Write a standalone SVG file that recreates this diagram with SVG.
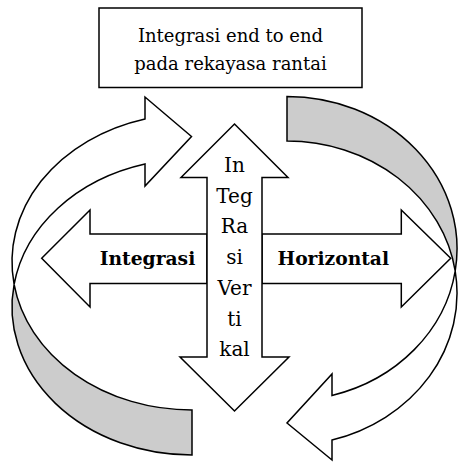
<svg xmlns="http://www.w3.org/2000/svg" width="458" height="462" viewBox="0 0 458 462">
  <style>
    .shape { fill: #ffffff; stroke: #000000; stroke-width: 1.5; stroke-linejoin: miter; }
    .band { fill: #cccccc; stroke: #000000; stroke-width: 1.5; stroke-linejoin: miter; }
    .txt { font-family: "DejaVu Serif", "Liberation Serif", serif; fill: #000000; text-anchor: middle; }
    .box-txt { font-size: 18px; }
    .bold-txt { font-size: 18.7px; font-weight: bold; }
    .vert-txt { font-size: 20px; }
  </style>
  <rect width="458" height="462" fill="#ffffff"/>

  <g id="connectors">
    <g id="curved-arrow-left">
      <path class="band" d="M 14.1,284.4 A 180 148.1 0 0 0 192,455 L 192,410 A 180 148.1 0 0 1 14.1,284.4 Z"/>
      <path class="shape" d="M 145,118.9 A 180 148.1 0 0 0 14.1,284.4 A 180 148.1 0 0 1 145,164 L 145,186 L 191.5,136.5 L 145,97 Z"/>
    </g>
    <g id="curved-arrow-right">
      <path class="band" d="M 287,96.5 A 170 152.2 0 0 1 455.2,271 A 170 152.2 0 0 0 287,141 Z"/>
      <path class="shape" d="M 455.2,271 A 170 152.2 0 0 1 332,440 L 332,460 L 287,423 L 332,374 L 332,395.5 A 170 152.2 0 0 0 455.2,271 Z"/>
    </g>
  </g>

  <g id="box-end-to-end">
    <rect class="shape" x="99" y="8" width="263" height="79.5"/>
    <text class="txt box-txt" x="230.5" y="42">Integrasi end to end</text>
    <text class="txt box-txt" x="230.5" y="70">pada rekayasa rantai</text>
  </g>

  <g id="arrow-integrasi">
    <path class="shape" d="M 41.7,258.3 L 90,210 L 90,234 L 207,234 L 207,283.5 L 90,283.5 L 90,307 Z"/>
    <text class="txt bold-txt" x="147.5" y="265">Integrasi</text>
  </g>

  <g id="arrow-horizontal">
    <path class="shape" d="M 450.7,258.3 L 401.3,210 L 401.3,234 L 262,234 L 262,283.5 L 401.3,283.5 L 401.3,307 Z"/>
    <text class="txt bold-txt" x="333.3" y="265">Horizontal</text>
  </g>

  <g id="arrow-vertikal">
    <path class="shape" d="M 234.5,124 L 288,177.5 L 262,177.5 L 262,357 L 289,357 L 234.5,411 L 180,357 L 207,357 L 207,177.5 L 181,177.5 Z"/>
    <text class="txt vert-txt" x="234.5" y="172">In</text>
    <text class="txt vert-txt" x="234.5" y="202.7">Teg</text>
    <text class="txt vert-txt" x="234.5" y="233.4">Ra</text>
    <text class="txt vert-txt" x="234.5" y="264.1">si</text>
    <text class="txt vert-txt" x="234.5" y="294.8">Ver</text>
    <text class="txt vert-txt" x="234.5" y="325.5">ti</text>
    <text class="txt vert-txt" x="234.5" y="356.2">kal</text>
  </g>
</svg>
